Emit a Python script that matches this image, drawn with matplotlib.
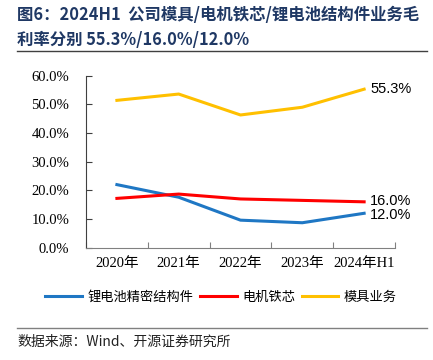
import matplotlib
matplotlib.use("Agg")
import matplotlib.pyplot as plt
from matplotlib.ticker import FuncFormatter

# 数据
years = ["2020年", "2021年", "2022年", "2023年", "2024年H1"]
battery = [22.0, 17.6, 9.6, 8.7, 12.0]   # 锂电池精密结构件
motor = [17.2, 18.7, 17.0, 16.5, 16.0]   # 电机铁芯
mould = [51.4, 53.6, 46.3, 49.0, 55.3]   # 模具业务
names = ["锂电池精密结构件", "电机铁芯", "模具业务"]
colors = ["#1F77C4", "#FF0000", "#FFC000"]

cjk = ["Noto Sans CJK SC", "DejaVu Sans"]
serif = ["Liberation Serif", "Noto Sans CJK SC"]

fig = plt.figure(figsize=(4.33, 3.6), dpi=100)
ax = fig.add_axes([0.1986, 0.312, 0.7137, 0.4777])

x = list(range(len(years)))
for ys, nm, c in zip([battery, motor, mould], names, colors):
    ax.plot(x, ys, color=c, lw=2.2, label=nm)

ax.set_xlim(-0.5, len(years) - 0.5)
ax.set_ylim(0, 60)
ax.set_yticks(range(0, 61, 10))
ax.yaxis.set_major_formatter(FuncFormatter(lambda v, p: "%.1f%%" % v))
ax.set_xticks([i - 0.5 for i in range(len(years) + 1)])
ax.set_xticklabels([])
ax.set_xticks(x, minor=True)
ax.set_xticklabels(years, minor=True, family=serif, fontsize=10.5)
ax.tick_params(axis="x", which="minor", length=0, pad=7)
ax.tick_params(axis="x", which="major", direction="in", length=4, color="#808080")
ax.tick_params(axis="y", direction="in", length=4, color="#404040", labelsize=10.5, pad=12)
for lab in ax.get_yticklabels():
    lab.set_family(serif)
for s in ["top", "right"]:
    ax.spines[s].set_visible(False)
ax.spines["left"].set_color("#404040")
ax.spines["bottom"].set_color("#808080")

# 末端数值标注
ax.text(x[-1] + 0.1, mould[-1], "%.1f%%" % mould[-1], fontsize=10.5,
        family="Liberation Sans", va="center", ha="left")
ax.text(x[-1] + 0.1, motor[-1] + 0.3, "%.1f%%" % motor[-1], fontsize=10.5,
        family="Liberation Sans", va="center", ha="left")
ax.text(x[-1] + 0.1, battery[-1] - 0.6, "%.1f%%" % battery[-1], fontsize=10.5,
        family="Liberation Sans", va="center", ha="left")

leg = fig.legend(loc="center", bbox_to_anchor=(0.51, 0.175), ncol=3, frameon=False,
                 prop={"family": cjk, "size": 9.5}, handlelength=2.8,
                 columnspacing=0.5, handletextpad=0.4)

# 标题
fig.text(0.04, 0.958, "图6：2024H1  公司模具/电机铁芯/锂电池结构件业务毛",
         fontsize=11.8, fontweight="bold", color="#1F3864", family=cjk, va="center")
fig.text(0.04, 0.889, "利率分别 55.3%/16.0%/12.0%",
         fontsize=11.8, fontweight="bold", color="#1F3864", family=cjk, va="center")
fig.add_artist(plt.Line2D([0.039, 0.986], [0.858, 0.858], color="#404040", lw=1.0,
                          transform=fig.transFigure))
fig.add_artist(plt.Line2D([0.039, 0.986], [0.088, 0.088], color="#808080", lw=1.0,
                          transform=fig.transFigure))
fig.text(0.04, 0.05, "数据来源：Wind、开源证券研究所", fontsize=10, family=cjk,
         va="center", color="#222222")

fig.savefig("out.png", dpi=100)
